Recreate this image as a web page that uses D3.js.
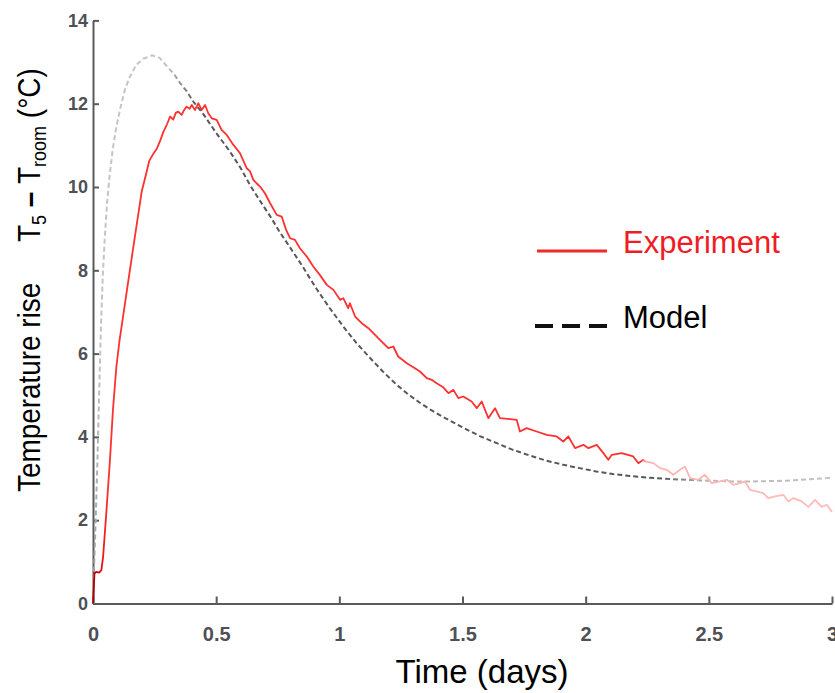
<!DOCTYPE html>
<html lang="en">
<head>
    <meta charset="UTF-8">
    <title>Temperature rise</title>
    <script src="https://d3js.org/d3.v7.min.js"></script>
    <style>
        body { margin: 0; background: #fff; }
        .tick text { font-family: "Liberation Sans", Arial, sans-serif; font-weight: bold; fill: #4f5055; }
        .axis path, .axis line { stroke: #5a5a5a; stroke-width: 2; }
    </style>
</head>
<body>
<script>
    //DATA (TIME IN DAYS, TEMPERATURE RISE IN °C)
    const expTime = [0, 0.006, 0.013, 0.025, 0.034, 0.041, 0.054, 0.068, 0.081, 0.095, 0.108, 0.122, 0.142, 0.162, 0.180, 0.198, 0.215, 0.228, 0.245, 0.259, 0.272, 0.286, 0.300, 0.313, 0.326, 0.336, 0.346, 0.360, 0.370, 0.380, 0.392, 0.401, 0.414, 0.428, 0.441, 0.455, 0.468, 0.482, 0.502, 0.522, 0.543, 0.570, 0.597, 0.624, 0.637, 0.651, 0.664, 0.678, 0.698, 0.719, 0.746, 0.766, 0.784, 0.800, 0.820, 0.840, 0.868, 0.894, 0.921, 0.949, 0.976, 1.003, 1.016, 1.036, 1.043, 1.064, 1.091, 1.118, 1.145, 1.172, 1.199, 1.219, 1.239, 1.274, 1.307, 1.327, 1.355, 1.375, 1.395, 1.420, 1.443, 1.463, 1.483, 1.503, 1.537, 1.558, 1.578, 1.605, 1.632, 1.652, 1.720, 1.733, 1.760, 1.801, 1.842, 1.882, 1.909, 1.930, 1.957, 1.991, 2.011, 2.045, 2.072, 2.092, 2.106, 2.146, 2.193, 2.214, 2.234, 2.241, 2.275, 2.302, 2.329, 2.356, 2.383, 2.403, 2.424, 2.457, 2.484, 2.512, 2.545, 2.573, 2.599, 2.627, 2.647, 2.667, 2.694, 2.721, 2.741, 2.769, 2.802, 2.823, 2.843, 2.877, 2.904, 2.931, 2.958, 2.979, 3.0];
    const expRise = [0, 0.72, 0.76, 0.74, 0.8, 1.12, 2.17, 3.37, 4.65, 5.69, 6.33, 6.89, 7.69, 8.49, 9.2, 9.9, 10.3, 10.62, 10.8, 10.92, 11.1, 11.33, 11.5, 11.69, 11.62, 11.78, 11.81, 11.73, 11.85, 11.93, 11.88, 11.97, 11.85, 12.01, 11.85, 11.97, 11.77, 11.65, 11.61, 11.37, 11.25, 11.01, 10.81, 10.45, 10.38, 10.17, 10.09, 10.01, 9.85, 9.61, 9.33, 9.29, 8.97, 8.77, 8.73, 8.53, 8.33, 8.09, 7.89, 7.65, 7.53, 7.29, 7.33, 7.09, 7.21, 6.89, 6.73, 6.61, 6.45, 6.29, 6.13, 6.17, 5.93, 5.77, 5.65, 5.57, 5.41, 5.37, 5.29, 5.2, 5.05, 5.13, 4.93, 4.97, 4.85, 4.69, 4.85, 4.45, 4.69, 4.45, 4.41, 4.13, 4.21, 4.13, 4.05, 4.01, 3.89, 4.01, 3.73, 3.81, 3.73, 3.81, 3.61, 3.45, 3.57, 3.61, 3.53, 3.37, 3.45, 3.41, 3.37, 3.25, 3.21, 3.09, 3.21, 3.29, 3.01, 2.97, 3.09, 2.89, 2.93, 2.97, 2.85, 2.89, 2.93, 2.73, 2.69, 2.65, 2.53, 2.57, 2.61, 2.45, 2.53, 2.45, 2.32, 2.49, 2.32, 2.37, 2.2];

    const modelTime = [0, 0.005, 0.011, 0.018, 0.025, 0.032, 0.04, 0.048, 0.057, 0.067, 0.08, 0.095, 0.112, 0.13, 0.15, 0.175, 0.204, 0.24, 0.27, 0.30, 0.33, 0.353, 0.38, 0.407, 0.448, 0.5, 0.556, 0.6, 0.637, 0.68, 0.719, 0.76, 0.80, 0.85, 0.908, 0.96, 1.016, 1.07, 1.124, 1.18, 1.233, 1.28, 1.327, 1.368, 1.43, 1.503, 1.57, 1.639, 1.70, 1.774, 1.84, 1.909, 1.975, 2.043, 2.11, 2.18, 2.261, 2.34, 2.41, 2.5, 2.6, 2.68, 2.75, 2.816, 2.9, 3.0];
    const modelRise = [0, 1.0, 2.0, 3.4, 5.0, 6.6, 7.9, 8.8, 9.6, 10.25, 10.9, 11.45, 11.92, 12.35, 12.65, 12.93, 13.08, 13.16, 13.1, 12.9, 12.7, 12.5, 12.3, 12.05, 11.75, 11.3, 10.85, 10.45, 10.05, 9.65, 9.3, 8.9, 8.55, 8.1, 7.55, 7.1, 6.65, 6.25, 5.9, 5.55, 5.25, 5.02, 4.82, 4.66, 4.45, 4.22, 4.02, 3.85, 3.7, 3.55, 3.43, 3.33, 3.25, 3.17, 3.11, 3.06, 3.02, 2.99, 2.97, 2.95, 2.93, 2.93, 2.94, 2.95, 2.98, 3.02];

    const xTicks = [0, 0.5, 1, 1.5, 2, 2.5, 3];
    const yTicks = [0, 2, 4, 6, 8, 10, 12, 14];
    const legendNames = ["Experiment", "Model"];

    //CONSTANTS
    const width = 835;
    const height = 693;
    const font = "'Liberation Sans', Arial, sans-serif";

    const svg = d3.select("body").append("svg")
        .attr("width", width)
        .attr("height", height);

    //SCALES
    const x = d3.scaleLinear().domain([0, 3]).range([93, 832]);
    const y = d3.scaleLinear().domain([0, 14]).range([603.5, 20.4]);

    //GRADIENTS SO THE LINES FADE LIKE IN THE ORIGINAL
    const defs = svg.append("defs");
    function addGradient(id, stops) {
        const g = defs.append("linearGradient")
            .attr("id", id)
            .attr("gradientUnits", "userSpaceOnUse")
            .attr("x1", x(0)).attr("x2", x(3))
            .attr("y1", 0).attr("y2", 0);
        stops.forEach(s => {
            g.append("stop").attr("offset", s[0] / 3).attr("stop-color", s[1]);
        });
    }
    addGradient("modelGrad", [[0, "#9a9a9a"], [0.03, "#c4c4c4"], [0.3, "#c4c4c4"], [0.42, "#585858"], [2.3, "#585858"], [2.5, "#b8b8b8"], [3, "#c4c4c4"]]);
    addGradient("expGrad", [[0, "#b00000"], [0.03, "#d81010"], [0.06, "#ff3030"], [2.225, "#ff3030"], [2.245, "#ffb4b4"], [3, "#ffbcbc"]]);

    //AXES - TICKS POINT INWARDS
    svg.append("g")
        .attr("class", "axis")
        .attr("transform", "translate(" + x(0) + ",0)")
        .call(d3.axisLeft(y).tickValues(yTicks).tickSize(-6).tickSizeOuter(0).tickPadding(5))
        .selectAll("text").style("font-size", "18px");

    svg.append("g")
        .attr("class", "axis")
        .attr("transform", "translate(0," + y(0) + ")")
        .call(d3.axisBottom(x).tickValues(xTicks).tickSize(-7).tickSizeOuter(0).tickPadding(23).tickFormat(d3.format("")))
        .selectAll("text").style("font-size", "20px");

    //LINES
    const line = d3.line().x(d => x(d[0])).y(d => y(d[1]));

    svg.append("path")
        .datum(modelTime.map((t, i) => [t, modelRise[i]]))
        .attr("fill", "none")
        .attr("stroke", "url(#modelGrad)")
        .attr("stroke-width", 2)
        .attr("stroke-dasharray", "5,3")
        .attr("d", line);

    svg.append("path")
        .datum(expTime.map((t, i) => [t, expRise[i]]))
        .attr("fill", "none")
        .attr("stroke", "url(#expGrad)")
        .attr("stroke-width", 1.8)
        .attr("stroke-linejoin", "round")
        .attr("d", line);

    //LEGEND
    svg.append("line")
        .attr("x1", 537).attr("x2", 607).attr("y1", 251).attr("y2", 251)
        .attr("stroke", "#ee2a2a").attr("stroke-width", 3);
    svg.append("text")
        .attr("x", 623).attr("y", 253)
        .attr("font-family", font).attr("font-size", 31)
        .attr("fill", "#ee1c25")
        .text(legendNames[0]);

    svg.append("line")
        .attr("x1", 535).attr("x2", 607).attr("y1", 326).attr("y2", 326)
        .attr("stroke", "#111").attr("stroke-width", 4)
        .attr("stroke-dasharray", "18,9");
    svg.append("text")
        .attr("x", 623).attr("y", 328)
        .attr("font-family", font).attr("font-size", 31)
        .attr("fill", "#000")
        .text(legendNames[1]);

    //AXIS TITLES
    svg.append("text")
        .attr("x", 482).attr("y", 683)
        .attr("text-anchor", "middle")
        .attr("font-family", font).attr("font-size", 33)
        .text("Time (days)");

    //Y TITLE IS A BIT CONDENSED IN THE ORIGINAL
    svg.append("text")
        .attr("transform", "translate(40,492) rotate(-90) scale(0.9,1)")
        .attr("font-family", font).attr("font-size", 31)
        .text("Temperature rise");

    const yt = svg.append("text")
        .attr("transform", "translate(40,242) rotate(-90) scale(0.9,1)")
        .attr("font-family", font).attr("font-size", 31);
    yt.append("tspan").text("T");
    yt.append("tspan").attr("font-size", 20).attr("dy", 6).text("5");
    yt.append("tspan").attr("dy", -6).attr("font-weight", "bold").text(" \u2013 ");
    yt.append("tspan").text("T");
    yt.append("tspan").attr("font-size", 20).attr("dy", 6).text("room");
    yt.append("tspan").attr("dy", -6).text(" (\u00B0C)");
</script>
</body>
</html>
